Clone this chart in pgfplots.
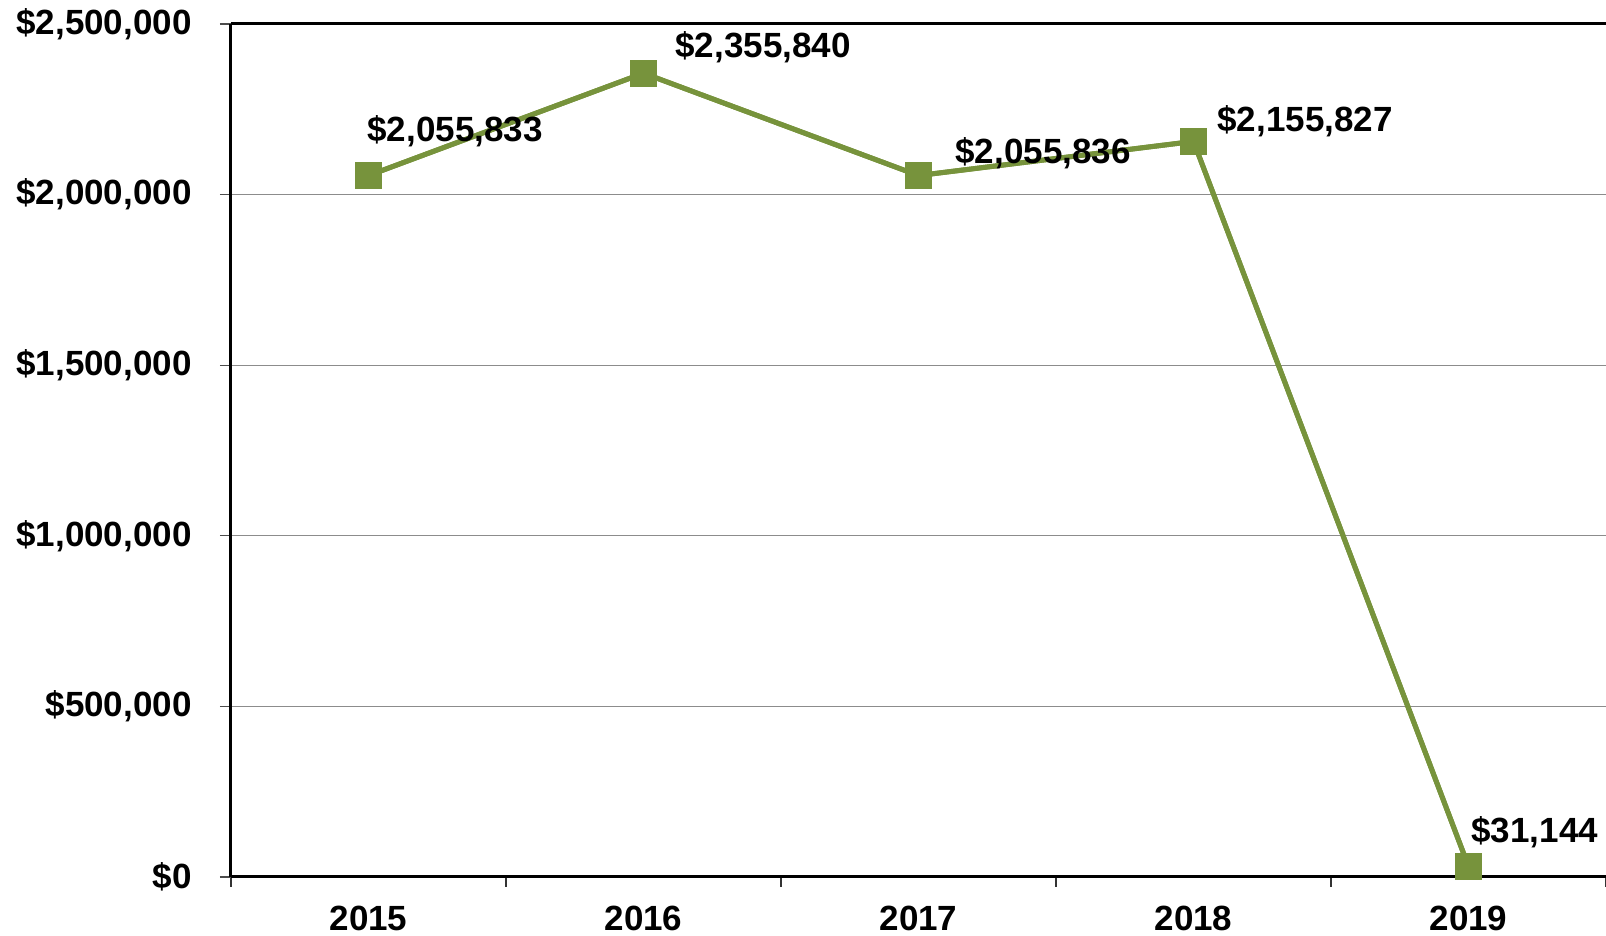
\documentclass[border=0pt]{standalone}
\usepackage{pgfplots}
\pgfplotsset{compat=1.18}
\usepackage{pgfplotstable}
\usepackage{fontspec}
\setmainfont{Liberation Sans}
\definecolor{olive}{RGB}{119,147,60}
\pgfplotstableread{
x y dx dy label
0 2055833 -0.5 22 {\$2,055,833}
1 2355840 16 13 {\$2,355,840}
2 2055836 18.5 11 {\$2,055,836}
3 2155827 12 10 {\$2,155,827}
4 31144 1.5 17 {\$31,144}
}\datatable
\begin{document}
\begin{tikzpicture}
\useasboundingbox (-115.5pt,-29.5pt) rectangle (687.5pt,438.5pt);
\begin{axis}[
  scale only axis,
  width=687.5pt, height=426.5pt,
  xmin=-0.5, xmax=4.5,
  ymin=0, ymax=2500000,
  axis x line=box, axis y line=left,
  axis line style={-, black, line width=1.5pt},
  xtick={0,1,2,3,4},
  xticklabels={2015,2016,2017,2018,2019},
  minor xtick={-0.5,0.5,1.5,2.5,3.5,4.5},
  major x tick style={draw=none},
  minor tick length=5pt,
  minor x tick style={draw=black!80, line width=0.6pt},
  xtick pos=bottom, ytick pos=left,
  tick align=outside,
  ytick={0,500000,1000000,1500000,2000000,2500000},
  yticklabels={{\$0},{\$500,000},{\$1,000,000},{\$1,500,000},{\$2,000,000},{\$2,500,000}},
  major tick length=5.5pt,
  ytick style={draw=black!70, line width=0.6pt},
  ymajorgrids,
  grid style={gray!90, line width=0.6pt},
  every tick label/.append style={font=\bfseries\fontsize{17.5}{20}\selectfont},
  yticklabel style={anchor=east, inner sep=0pt, xshift=-14pt},
  xticklabel style={anchor=north, inner sep=0pt, yshift=-9pt},
  /pgf/number format/assume math mode=true,
  clip=false,
]
\addplot[olive, line width=2.5pt, mark=square*, mark size=6.5pt,
  mark options={solid, fill=olive, draw=olive, line width=0pt},
  point meta=explicit symbolic,
  visualization depends on={\thisrow{dx}\as\dx},
  visualization depends on={\thisrow{dy}\as\dy},
  nodes near coords,
  nodes near coords style={anchor=west, inner sep=0pt, xshift=\dx pt, yshift=\dy pt, text=black, font=\bfseries\fontsize{17.5}{20}\selectfont},
] table[x=x, y=y, meta=label] {\datatable};
\addplot[olive, line width=2.5pt, mark=square*, mark size=6.5pt,
  mark options={solid, fill=olive, draw=olive, line width=0pt}] table[x=x, y=y] {\datatable};
\end{axis}
\end{tikzpicture}
\end{document}
